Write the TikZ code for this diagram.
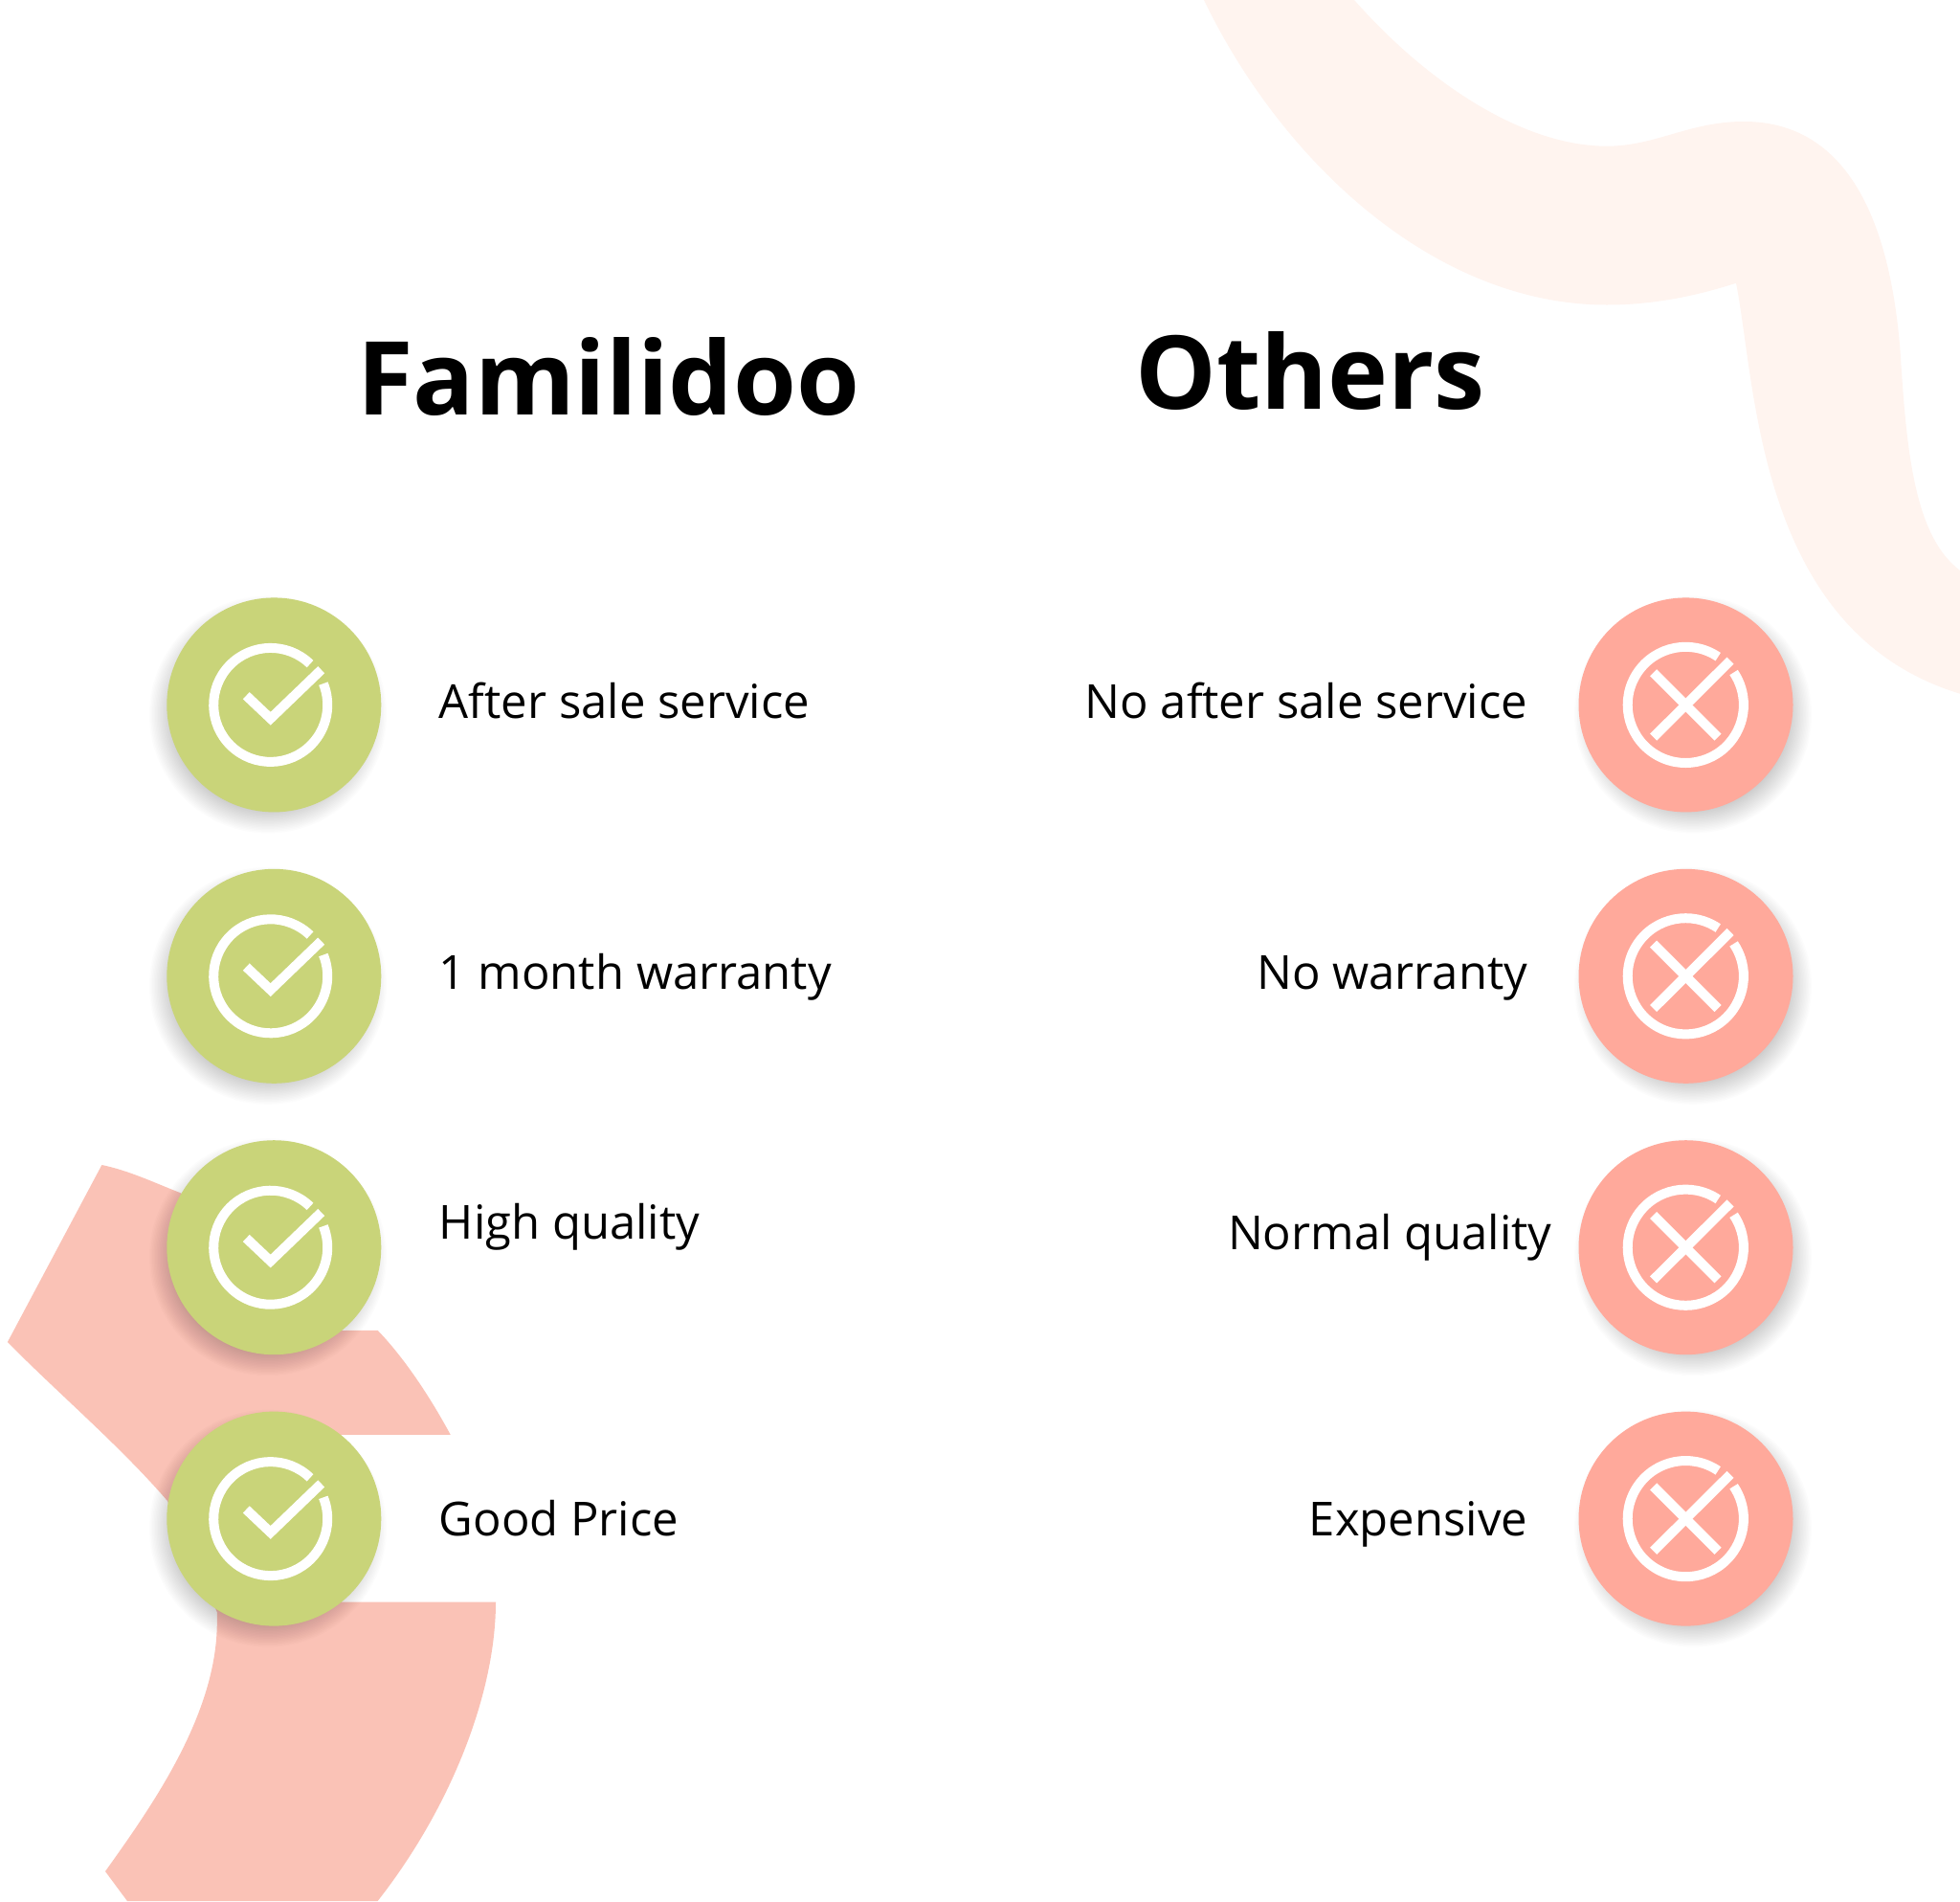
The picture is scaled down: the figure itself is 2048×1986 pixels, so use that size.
\documentclass[tikz,border=0pt]{standalone}
\usepackage{fontspec}
\setmainfont{Open Sans}
\definecolor{okgreen}{HTML}{C9D479}
\definecolor{nored}{HTML}{FFA99B}
\definecolor{bandsalmon}{HTML}{FAC2B6}
\definecolor{bandpeach}{HTML}{FFF4EF}
\tikzset{
  okdisc/.style={circle,fill=okgreen,minimum size=112pt,inner sep=0pt},
  nodisc/.style={circle,fill=nored,minimum size=112pt,inner sep=0pt},
  iconline/.style={draw=white,line width=5pt,line cap=butt,line join=miter},
  titletext/.style={font=\fontsize{53.3}{60}\selectfont\bfseries,text=black,inner sep=0pt},
  labeltext/.style={font=\fontsize{24.5}{30}\selectfont,text=black,inner sep=0pt},
}
\newcommand{\softshadow}[2]{%
  \foreach \rr in {94,95.5,...,125}{\fill[black,opacity=0.012] (#1,#2) circle[radius=0.5pt*\rr];}}
\begin{document}
\begin{tikzpicture}[x=0.5pt,y=-0.5pt]
\useasboundingbox (0,0) rectangle (2048,1986);
\fill[white] (0,0) rectangle (2048,1986);
% peach band, top right
\fill[bandpeach] (1258,0) .. controls (1340,170) and (1500,318.5) .. (1679,318.5)
  .. controls (1725,318.5) and (1770,310) .. (1814,295.7)
  .. controls (1835,400) and (1835,660) .. (2048,724.7)
  -- (2048,596)
  .. controls (2000,560) and (1992,470) .. (1985.6,368)
  .. controls (1975,230) and (1930,127) .. (1822,127)
  .. controls (1765,127) and (1730,152.7) .. (1679,152.7)
  .. controls (1590,152.7) and (1490,85) .. (1415,0)
  -- cycle;
% salmon band, bottom left
\fill[bandsalmon] (106.4,1217) .. controls (135,1223) and (160,1235) .. (187.5,1245.8)
  -- (300,1300) -- (357,1390) -- (394.6,1389.8)
  .. controls (420,1416) and (447,1455) .. (470.7,1498.8)
  -- (357,1498.8) -- (300,1587) -- (357,1673.6) -- (518,1673.6)
  .. controls (518,1770) and (470,1890) .. (394.6,1986)
  -- (133,1986) -- (110,1955)
  .. controls (160,1885) and (227,1790) .. (226.8,1694)
  -- (226.8,1684) -- (175,1568)
  .. controls (125,1510) and (60,1455) .. (7.9,1402) -- cycle;
% disc shadows
\foreach \yy in {736.4,1019.8,1303.2,1586.6}{
  \softshadow{280}{\yy+10}
  \softshadow{1769}{\yy+10}
}
\foreach \yy/\nn in {736.4/1,1019.8/2,1303.2/3,1586.6/4}{
  \node[okdisc] (ok\nn) at (286.3,\yy) {};
  \node[nodisc] (no\nn) at (1761.5,\yy) {};
  \begin{scope}[shift={(282.7,\yy)}]
    \draw[iconline] (46:29.75pt) arc[start angle=46,end angle=382,radius=29.75pt];
    \draw[iconline] (-25.4,-9.7) -- (0,14.3) -- (53,-36.7);
  \end{scope}
  \begin{scope}[shift={(1761.3,\yy)}]
    \draw[iconline] (56:30.3pt) arc[start angle=56,end angle=394,radius=30.3pt];
    \draw[iconline] (-33.7,-33.7) -- (33.7,33.7);
    \draw[iconline] (-33.7,33.7) -- (46.7,-46.3);
  \end{scope}
}
% titles
\node[titletext,anchor=base west] (t1) at (373,433.6) {Familidoo};
\node[titletext,anchor=base west] (t2) at (1186,427) {Others};
% labels
\node[labeltext,anchor=base west] (l1) at (458.5,750) {After sale service};
\node[labeltext,anchor=base west] (l2) at (458.5,1033.4) {1 month warranty};
\node[labeltext,anchor=base west] (l3) at (458.5,1294) {High quality};
\node[labeltext,anchor=base west] (l4) at (458.5,1604) {Good Price};
\node[labeltext,anchor=base east] (r1) at (1596.5,750) {No after sale service};
\node[labeltext,anchor=base east] (r2) at (1596.5,1033.4) {No warranty};
\node[labeltext,anchor=base east] (r3) at (1622,1305) {Normal quality};
\node[labeltext,anchor=base east] (r4) at (1596.5,1604) {Expensive};
\end{tikzpicture}
\end{document}
